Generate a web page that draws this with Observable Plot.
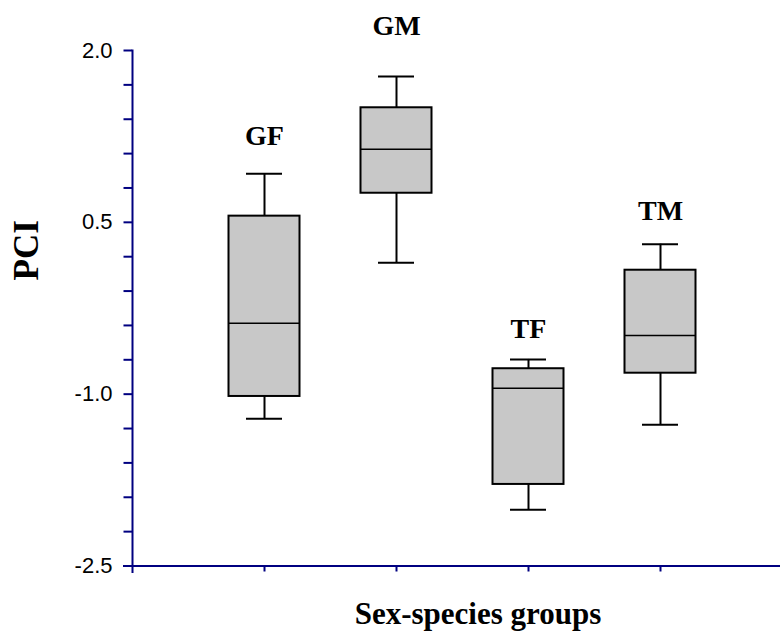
<!DOCTYPE html>
<html>
<head>
<meta charset="utf-8">
<script src="https://cdn.jsdelivr.net/npm/d3@7"></script>
<script src="https://cdn.jsdelivr.net/npm/@observablehq/plot@0.6"></script>
<style>
  html, body { margin: 0; padding: 0; background: #fff; overflow: hidden; }
  #chart svg { display: block; }
</style>
</head>
<body>
<div id="chart"></div>
<script>
// ---- data ----
const groups = ["GF", "GM", "TF", "TM"];
const whiskerHigh = [0.924, 1.773, -0.697, 0.309];
const q3 = [0.554, 1.50, -0.778, 0.082];
const median = [-0.380, 1.138, -0.948, -0.488];
const q1 = [-1.020, 0.754, -1.788, -0.817];
const whiskerLow = [-1.215, 0.147, -2.009, -1.267];
const labelY = [1.171, 2.131, -0.508, 0.522];
const yTicks = [-2.5, -2.2, -1.9, -1.6, -1.3, -1.0, -0.7, -0.4, -0.1, 0.2, 0.5, 0.8, 1.1, 1.4, 1.7, 2.0];
const yTickLabels = [-2.5, -1.0, 0.5, 2.0];
const xTitle = "Sex-species groups";
const yTitle = "PCI";

const data = groups.map((g, i) => ({
  group: g, hi: whiskerHigh[i], q3: q3[i], med: median[i], q1: q1[i], lo: whiskerLow[i], ly: labelY[i]
}));

const navy = "#000080";
const serif = "'Liberation Serif', 'Times New Roman', serif";
const sans = "'Liberation Sans', Arial, sans-serif";

const chart = Plot.plot({
  width: 781,
  height: 634,
  marginTop: 50,
  marginBottom: 68.5,
  marginLeft: 132,
  marginRight: 1,
  style: { background: "#fff", color: "#000" },
  x: { type: "band", domain: groups, range: [198, 726], padding: 0 },
  y: { domain: [-2.5, 2.0] },
  marks: [
    // whiskers
    Plot.ruleX(data, { x: "group", y1: "q3", y2: "hi", stroke: "#000", strokeWidth: 2 }),
    Plot.ruleX(data, { x: "group", y1: "lo", y2: "q1", stroke: "#000", strokeWidth: 2 }),
    Plot.tickY(data, { x: "group", y: "hi", insetLeft: 48, insetRight: 48, stroke: "#000", strokeWidth: 2 }),
    Plot.tickY(data, { x: "group", y: "lo", insetLeft: 48, insetRight: 48, stroke: "#000", strokeWidth: 2 }),
    // boxes
    Plot.barY(data, { x: "group", y1: "q1", y2: "q3", insetLeft: 30.5, insetRight: 30.5, fill: "#c8c8c8", stroke: "#000", strokeWidth: 2 }),
    Plot.tickY(data, { x: "group", y: "med", insetLeft: 30.5, insetRight: 30.5, stroke: "#000", strokeWidth: 1.5 }),
    // group labels
    Plot.text(data, { x: "group", y: "ly", text: "group", lineAnchor: "bottom", fontSize: 28, fontWeight: "bold", fontFamily: serif, fill: "#000" }),
    // axes
    Plot.axisY({ ticks: yTicks, tickSize: 8.5, tickFormat: () => "", stroke: navy, strokeWidth: 2, label: null }),
    Plot.axisY({ ticks: yTickLabels, tickSize: 0, tickPadding: 20, tickFormat: d => d.toFixed(1), fontSize: 22, fontFamily: sans, fill: "#000", label: null }),
    Plot.axisX({ tickSize: 6, tickFormat: () => "", stroke: navy, strokeWidth: 2, label: null }),
    Plot.frame({ anchor: "left", stroke: navy, strokeWidth: 2, insetBottom: -6 }),
    Plot.ruleY([-2.5], { stroke: navy, strokeWidth: 2, insetLeft: -9 }),
    // titles
    Plot.text([xTitle], { frameAnchor: "bottom", dx: 21.5, dy: 57.5, lineAnchor: "bottom", fontSize: 31, fontWeight: "bold", fontFamily: serif, fill: "#000" }),
    Plot.text([yTitle], { frameAnchor: "left", rotate: -90, dx: -95, dy: -27.75, lineAnchor: "bottom", fontSize: 35, fontWeight: "bold", fontFamily: serif, fill: "#000" })
  ]
});
document.getElementById("chart").appendChild(chart);
</script>
</body>
</html>
